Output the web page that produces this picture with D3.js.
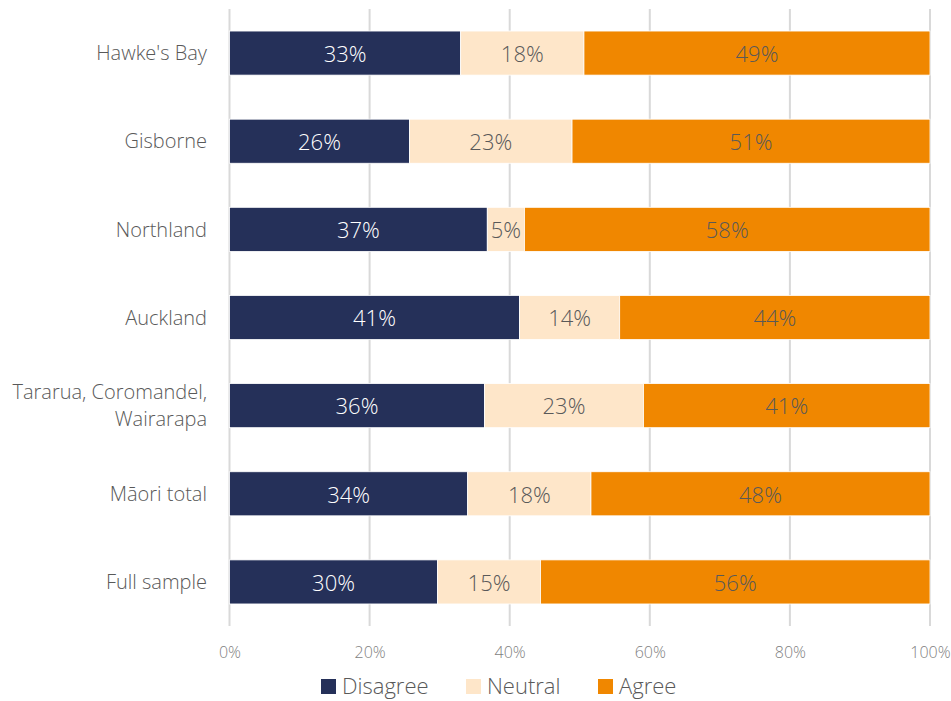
<!DOCTYPE html>
<html>
<head>
<meta charset="utf-8">
<script src="https://cdn.jsdelivr.net/npm/d3@7"></script>
<style>
  body { margin: 0; background: #fff; }
  svg { display: block; font-family: "Open Sans", "Noto Sans", sans-serif; font-weight: 300; }
</style>
</head>
<body>
<div id="chart"></div>
<script>
// Survey regions, top to bottom
const categories = ["Hawke's Bay", "Gisborne", "Northland", "Auckland", "Tararua, Coromandel,\nWairarapa", "Māori total", "Full sample"];
const seriesNames = ["Disagree", "Neutral", "Agree"];
// Shares in percent for each response
const disagree = [33.0, 25.7, 36.8, 41.4, 36.4, 34.0, 29.7];
const neutral  = [17.6, 23.2, 5.3, 14.3, 22.7, 17.6, 14.7];
const agree    = [49.4, 51.1, 57.9, 44.3, 40.9, 48.4, 55.6];
const xTicks = [0, 20, 40, 60, 80, 100];

const colors = { Disagree: "#253059", Neutral: "#FEE6C9", Agree: "#F08700" };
const labelColors = { Disagree: "#ffffff", Neutral: "#595959", Agree: "#595959" };

const width = 951, height = 701;
const margin = { top: 9, right: 21, bottom: 75, left: 229.5 };

const rows = categories.map((c, i) => ({
  category: c, Disagree: disagree[i], Neutral: neutral[i], Agree: agree[i]
}));

const svg = d3.select("#chart").append("svg")
  .attr("width", width).attr("height", height);

const x = d3.scaleLinear().domain([0, 100]).range([margin.left, width - margin.right]);
const y = d3.scaleBand().domain(categories).range([margin.top, height - margin.bottom]).paddingInner(0.5).paddingOuter(0.25);

// Vertical gridlines
svg.append("g").selectAll("line").data(xTicks).join("line")
  .attr("x1", d => x(d)).attr("x2", d => x(d))
  .attr("y1", margin.top).attr("y2", height - margin.bottom)
  .attr("stroke", "#d9d9d9").attr("stroke-width", 2);

// X axis labels
const xAxis = d3.axisBottom(x).tickValues(xTicks).tickFormat(d => d + "%").tickSize(0).tickPadding(0);
const gx = svg.append("g").attr("transform", `translate(0,${height - margin.bottom + 21})`).call(xAxis);
gx.select(".domain").remove();
gx.selectAll("text").attr("font-size", 16).attr("fill", "#7f7f7f")
  .attr("font-family", "'Open Sans', sans-serif").attr("font-weight", 300)
  .attr("dy", "0.71em");

// Stacked bars
const stack = d3.stack().keys(seriesNames)(rows);
const layers = svg.append("g").selectAll("g").data(stack).join("g")
  .attr("fill", d => colors[d.key]);

layers.selectAll("rect").data(d => d.map(v => Object.assign(v, { key: d.key }))).join("rect")
  .attr("x", d => x(d[0]))
  .attr("width", d => x(d[1]) - x(d[0]))
  .attr("y", d => y(d.data.category))
  .attr("height", y.bandwidth())
  .attr("stroke", "#ffffff").attr("stroke-width", 0.8);

// Value labels inside the segments
layers.selectAll("text").data(d => d).join("text")
  .attr("x", d => (x(d[0]) + x(d[1])) / 2)
  .attr("y", d => y(d.data.category) + y.bandwidth() / 2)
  .attr("dy", "0.4em")
  .attr("text-anchor", "middle")
  .attr("font-size", 22)
  .attr("fill", d => labelColors[d.key])
  .text(d => Math.round(d[1] - d[0]) + "%");

// Category labels
const yLab = svg.append("g").selectAll("text").data(categories).join("text")
  .attr("text-anchor", "end")
  .attr("font-size", 20)
  .attr("fill", "#595959")
  .attr("transform", d => `translate(207,${y(d) + y.bandwidth() / 2})`);
yLab.each(function(d) {
  const lines = d.split("\n");
  const t = d3.select(this);
  lines.forEach((ln, i) => {
    t.append("tspan").attr("x", 0)
      .attr("y", 0)
      .attr("dy", ((i - (lines.length - 1) / 2) * 1.35 + 0.36) + "em")
      .text(ln);
  });
});

// Legend
const legendItems = [
  { name: "Disagree", x: 321 },
  { name: "Neutral", x: 466 },
  { name: "Agree", x: 598 }
];
const lg = svg.append("g").selectAll("g").data(legendItems).join("g")
  .attr("transform", d => `translate(${d.x},679)`);
lg.append("rect").attr("width", 15).attr("height", 15).attr("fill", d => colors[d.name]);
lg.append("text").attr("x", 21).attr("y", 7.5).attr("dy", "0.34em")
  .attr("font-size", 22).attr("fill", "#595959").text(d => d.name);
</script>
</body>
</html>
